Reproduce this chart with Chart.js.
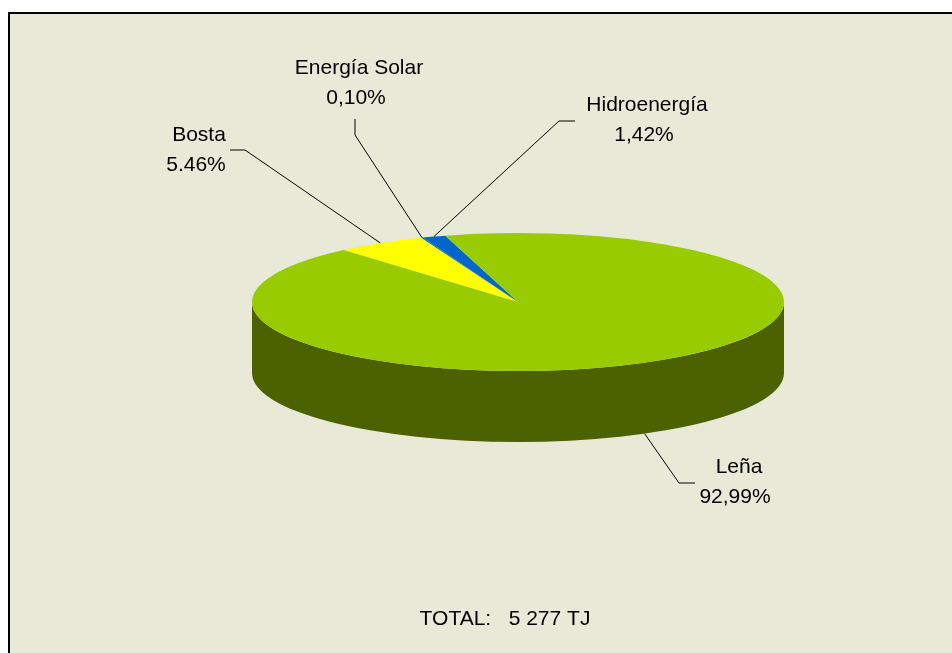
<!DOCTYPE html>
<html>
<head>
<meta charset="utf-8">
<script src="https://cdn.jsdelivr.net/npm/chart.js@4.4.1/dist/chart.umd.min.js"></script>
<style>
  html, body { margin: 0; padding: 0; background: #fff; overflow: hidden; }
  #frame {
    position: absolute; left: 8px; top: 12px; right: 0; bottom: 0;
    border-left: 2px solid #000; border-top: 2px solid #000;
    background: #E8EAD7;
  }
  #pie { position: absolute; left: 0; top: 0; }
</style>
</head>
<body>
<div id="frame"></div>
<canvas id="pie" width="952" height="653"></canvas>
<script>
// data
const categories = ['Bosta', 'Energía Solar', 'Hidroenergía', 'Leña'];
const shares = [5.46, 0.10, 1.42, 92.99];
const shareLabels = ['5.46%', '0,10%', '1,42%', '92,99%'];
const totalText = 'TOTAL:   5 277 TJ';

const topColors = ['#FFFF00', '#0066CC', '#0066CC', '#99CC00'];
const sideColors = ['#999900', '#003D7A', '#003D7A', '#4C6200'];

// look of the tilted pie
const FLAT = 69 / 266;   // vertical squash of the top face
const DEPTH = 71;        // thickness of the side wall, px

// where each label sits and how its leader line bends
const labelLayout = [
    { elbow: [245, 150], end: [230, 150], lines: [[199, 141], [196, 171]] },
    { elbow: [355, 135], end: [355, 119], lines: [[359, 74], [356, 104]] },
    { elbow: [559, 121], end: [575, 121], lines: [[647, 111], [644, 141]] },
    { elbow: [679, 483], end: [695, 483], lines: [[739, 473], [735, 503]] }
];

function arcAnchor(arc, cx, cy, r) {
    const mid = (arc.startAngle + arc.endAngle) / 2;
    const s = Math.sin(mid);
    return [cx + r * Math.cos(mid), cy + r * FLAT * s + (s > 0 ? DEPTH : 0)];
}

const tiltPlugin = {
    id: 'tilt',
    beforeDatasetsDraw(chart) {
        const ctx = chart.ctx;
        const arcs = chart.getDatasetMeta(0).data;
        const cx = arcs[0].x, cy = arcs[0].y, r = arcs[0].outerRadius;
        const ry = r * FLAT;

        // side wall, only the front half shows
        arcs.forEach((arc, i) => {
            [-2 * Math.PI, 0, 2 * Math.PI].forEach(k => {
                const s = Math.max(arc.startAngle, k);
                const e = Math.min(arc.endAngle, k + Math.PI);
                if (s >= e) return;
                ctx.beginPath();
                ctx.ellipse(cx, cy, r, ry, 0, s, e);
                ctx.ellipse(cx, cy + DEPTH, r, ry, 0, e, s, true);
                ctx.closePath();
                ctx.fillStyle = sideColors[i];
                ctx.fill();
            });
        });

        // squash the top face
        ctx.save();
        ctx.translate(cx, cy);
        ctx.scale(1, FLAT);
        ctx.translate(-cx, -cy);
    },
    afterDatasetsDraw(chart) {
        chart.ctx.restore();
    },
    afterDraw(chart) {
        const ctx = chart.ctx;
        const arcs = chart.getDatasetMeta(0).data;
        const cx = arcs[0].x, cy = arcs[0].y, r = arcs[0].outerRadius;

        ctx.save();
        ctx.strokeStyle = '#000';
        ctx.lineWidth = 1;
        arcs.forEach((arc, i) => {
            const p = arcAnchor(arc, cx, cy, r);
            const lay = labelLayout[i];
            ctx.beginPath();
            ctx.moveTo(p[0], p[1]);
            ctx.lineTo(lay.elbow[0], lay.elbow[1]);
            ctx.lineTo(lay.end[0], lay.end[1]);
            ctx.stroke();
        });

        ctx.fillStyle = '#000';
        ctx.font = '21px "Liberation Sans", Arial, sans-serif';
        ctx.textAlign = 'center';
        ctx.textBaseline = 'alphabetic';
        categories.forEach((name, i) => {
            const l = labelLayout[i].lines;
            ctx.fillText(name, l[0][0], l[0][1]);
            ctx.fillText(shareLabels[i], l[1][0], l[1][1]);
        });
        ctx.fillText(totalText, 505, 625);
        ctx.restore();
    }
};

const ctx = document.getElementById('pie').getContext('2d');
new Chart(ctx, {
    type: 'pie',
    data: {
        labels: categories,
        datasets: [{
            data: shares,
            backgroundColor: topColors,
            borderWidth: 0,
            clip: false
        }]
    },
    options: {
        responsive: false,
        animation: false,
        rotation: -41,
        layout: { padding: { left: 252, top: 36, right: 168, bottom: 85 } },
        plugins: {
            legend: { display: false },
            tooltip: { enabled: false }
        }
    },
    plugins: [tiltPlugin]
});
</script>
</body>
</html>
